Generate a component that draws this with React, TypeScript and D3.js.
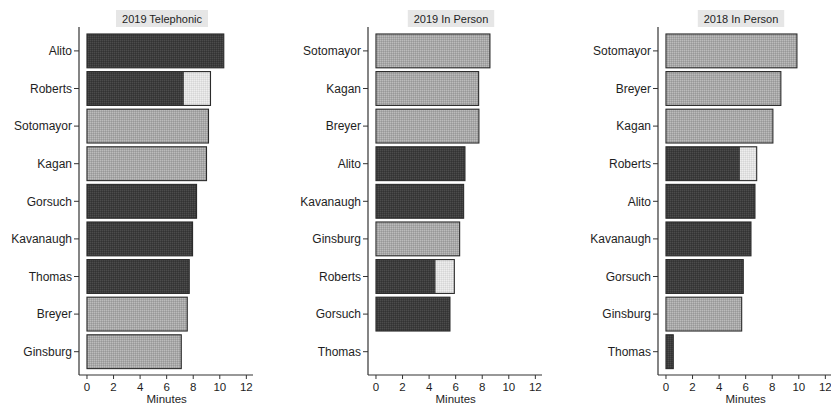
import React from "react";
import * as d3 from "d3";

const tel2019Names = ["Alito", "Roberts", "Sotomayor", "Kagan", "Gorsuch", "Kavanaugh", "Thomas", "Breyer", "Ginsburg"];
const tel2019Values = [10.3, 9.3, 9.15, 9.0, 8.25, 7.95, 7.7, 7.55, 7.1];
const tel2019Dark = [10.3, 7.3, 0, 0, 8.25, 7.95, 7.7, 0, 0];

const inp2019Names = ["Sotomayor", "Kagan", "Breyer", "Alito", "Kavanaugh", "Ginsburg", "Roberts", "Gorsuch", "Thomas"];
const inp2019Values = [8.58, 7.73, 7.75, 6.7, 6.6, 6.3, 5.9, 5.57, 0];
const inp2019Dark = [0, 0, 0, 6.7, 6.6, 0, 4.5, 5.57, 0];

const inp2018Names = ["Sotomayor", "Breyer", "Kagan", "Roberts", "Alito", "Kavanaugh", "Gorsuch", "Ginsburg", "Thomas"];
const inp2018Values = [9.86, 8.65, 8.05, 6.83, 6.7, 6.4, 5.82, 5.7, 0.55];
const inp2018Dark = [0, 0, 0, 5.57, 6.7, 6.4, 5.82, 0, 0.55];

const panelTitles = ["2019 Telephonic", "2019 In Person", "2018 In Person"];
const xTicks = [0, 2, 4, 6, 8, 10, 12];
const xLabel = "Minutes";

const panels = [
  { title: panelTitles[0], names: tel2019Names, values: tel2019Values, dark: tel2019Dark, axisX: 79 },
  { title: panelTitles[1], names: inp2019Names, values: inp2019Values, dark: inp2019Dark, axisX: 368 },
  { title: panelTitles[2], names: inp2018Names, values: inp2018Values, dark: inp2018Dark, axisX: 658 },
];

const FONT = "'Liberation Sans', Arial, Helvetica, sans-serif";
const TEXT = "#1e1e1e";

function Panel({ p }: { p: typeof panels[number] }) {
  const x = d3.scaleLinear().domain([-0.6, 12.5]).range([p.axisX, p.axisX + 174]);
  const y = d3.scaleBand<string>().domain(p.names).range([32.1, 370.5]).paddingInner(0.1).paddingOuter(0.05);
  const axisY = 375;
  const bw = y.bandwidth();
  const cx = (x(-0.6) + x(12.5)) / 2;
  const tw = p.title.length * 5.6 + 8;
  return (
    <g>
      <rect x={cx - tw / 2 - 4} y={10} width={tw} height={17} fill="#e6e6e6" />
      <text x={cx - 4} y={22.5} textAnchor="middle" fontSize={11} fill={TEXT} fontFamily={FONT}>{p.title}</text>
      {p.names.map((n, i) => {
        const v = p.values[i];
        const dv = p.dark[i];
        const yy = y(n)!;
        if (v <= 0) return null;
        const isMixed = dv > 0 && dv < v;
        const isDark = dv >= v;
        return (
          <g key={n}>
            {isMixed ? (
              <>
                <rect x={x(0)} y={yy} width={x(dv) - x(0)} height={bw} fill="url(#pDark)" />
                <rect x={x(dv)} y={yy} width={x(v) - x(dv)} height={bw} fill="url(#pVLight)" />
              </>
            ) : (
              <rect x={x(0)} y={yy} width={x(v) - x(0)} height={bw} fill={isDark ? "url(#pDark)" : "url(#pLight)"} />
            )}
            <rect x={x(0)} y={yy} width={x(v) - x(0)} height={bw} fill="none" stroke="#2b2b2b" strokeWidth={1.1} />
          </g>
        );
      })}
      {/* y axis */}
      <line x1={p.axisX} x2={p.axisX} y1={27} y2={axisY} stroke="#333" strokeWidth={1.2} />
      {p.names.map((n) => {
        const c = y(n)! + bw / 2;
        return (
          <g key={"t" + n}>
            <line x1={p.axisX - 5} x2={p.axisX} y1={c} y2={c} stroke="#333" strokeWidth={1} />
            <text x={p.axisX - 7} y={c + 4.3} textAnchor="end" fontSize={12} fill={TEXT} fontFamily={FONT}>{n}</text>
          </g>
        );
      })}
      {/* x axis */}
      <line x1={p.axisX} x2={x(12.5)} y1={axisY} y2={axisY} stroke="#333" strokeWidth={1.2} />
      {xTicks.map((t) => (
        <g key={"x" + t}>
          <line x1={x(t)} x2={x(t)} y1={axisY} y2={axisY + 4} stroke="#333" strokeWidth={1} />
          <text x={x(t)} y={axisY + 16} textAnchor="middle" fontSize={11.5} fill={TEXT} fontFamily={FONT}>{t}</text>
        </g>
      ))}
      <text x={x(6)} y={axisY + 28} textAnchor="middle" fontSize={11.5} fill={TEXT} fontFamily={FONT}>{xLabel}</text>
    </g>
  );
}

export default function App() {
  return (
    <svg width={831} height={404} style={{ position: "absolute", left: 0, top: 0, background: "#fff" }}>
      <defs>
        <pattern id="pDark" width={2} height={2} patternUnits="userSpaceOnUse">
          <rect width={2} height={2} fill="#3d3d3d" />
          <rect width={1} height={1} fill="#4c4c4c" />
          <rect x={1} y={1} width={1} height={1} fill="#333333" />
        </pattern>
        <pattern id="pLight" width={2} height={2} patternUnits="userSpaceOnUse">
          <rect width={2} height={2} fill="#a8a8a8" />
          <rect width={1} height={1} fill="#bcbcbc" />
          <rect x={1} y={1} width={1} height={1} fill="#989898" />
        </pattern>
        <pattern id="pVLight" width={2} height={2} patternUnits="userSpaceOnUse">
          <rect width={2} height={2} fill="#e2e2e2" />
          <rect width={1} height={1} fill="#eeeeee" />
          <rect x={1} y={1} width={1} height={1} fill="#d6d6d6" />
        </pattern>
      </defs>
      {panels.map((p) => (
        <Panel key={p.title} p={p} />
      ))}
    </svg>
  );
}
